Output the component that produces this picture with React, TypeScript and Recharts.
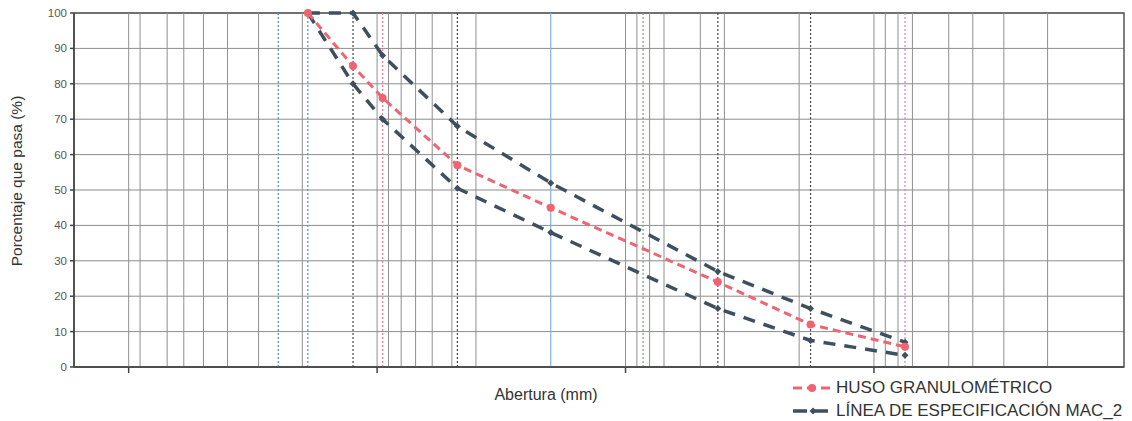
import React from 'react';
import {
  LineChart, Line, XAxis, YAxis, CartesianGrid, ReferenceLine, ReferenceArea,
} from 'recharts';

// abertura de tamices (mm)
const sieves = [19, 12.5, 9.5, 4.75, 2.0, 0.425, 0.18, 0.075];
// % que pasa
const huso = [100, 85, 76, 57, 45, 24, 12, 5.7];
const specUpper = [100, 100, 88, 68, 52, 27, 16.5, 7];
const specLower = [100, 80, 70, 50.5, 38, 16.5, 7.5, 3.3];

const yTicks = [0, 10, 20, 30, 40, 50, 60, 70, 80, 90, 100];
const decadeTicks = [100, 10, 1, 0.1];
const xDomain = [0.00985, 166];
// lineas de grilla verticales que aparecen en el grafico
const gridSizes = [
  100, 90, 70, 60, 50, 40, 30, 20, 10, 9, 8, 7, 6, 5, 4,
  1, 0.9, 0.8, 0.7, 0.5, 0.4, 0.2, 0.1, 0.09, 0.08, 0.07, 0.05, 0.04, 0.03, 0.02,
];
// lineas punteadas de tamices
const sieveMarks = [
  { size: 25, color: '#4f8fd0', dash: '2 2' },
  { size: 19, color: '#4f8fd0', dash: '2 2' },
  { size: 12.5, color: '#444', dash: '2 2' },
  { size: 9.5, color: '#e57d98', dash: '2 2' },
  { size: 4.75, color: '#444', dash: '2 2' },
  { size: 2.0, color: '#7fb3dc', dash: undefined },
  { size: 0.85, color: '#6aa46a', dash: '2 2' },
  { size: 0.425, color: '#444', dash: '2 2' },
  { size: 0.18, color: '#444', dash: '2 2' },
  { size: 0.075, color: '#e07fb8', dash: '2 2' },
];

const RED = '#ef6470';
const DARK = '#3e4f5f';

const data = sieves.map((s, i) => ({
  size: s,
  huso: huso[i],
  sup: specUpper[i],
  inf: specLower[i],
}));

const Diamond = (props: any) => {
  const { cx, cy } = props;
  if (cx == null || cy == null) return null;
  return <path d={`M${cx},${cy - 3.5}L${cx + 3.5},${cy}L${cx},${cy + 3.5}L${cx - 3.5},${cy}Z`} fill={DARK} />;
};

const App = () => {
  return (
    <div style={{ position: 'absolute', left: 0, top: 0, width: 1132, height: 421, background: '#fff', fontFamily: '"Liberation Sans", Arial, sans-serif' }}>
      <LineChart width={1132} height={421} data={data} margin={{ top: 13, right: 8, left: 30, bottom: 44 }}>
        <CartesianGrid vertical={false} stroke="#8c8c8c" strokeWidth={1} />
        <XAxis
          dataKey="size"
          type="number"
          scale="log"
          domain={xDomain}
          reversed
          allowDataOverflow
          ticks={decadeTicks}
          tickFormatter={() => ''}
          tickSize={6}
          height={10}
          stroke="#444"
          strokeWidth={1.5}
        />
        <YAxis
          type="number"
          domain={[0, 100]}
          ticks={yTicks}
          width={44}
          tickSize={4}
          tickMargin={3}
          stroke="#444"
          strokeWidth={1.5}
          tick={{ fill: '#555', fontSize: 11.5 }}
        />
        {gridSizes.map((g) => (
          <ReferenceLine key={'g' + g} x={g} stroke="#8f8f8f" strokeWidth={1} />
        ))}
        {sieveMarks.map((m) => (
          <ReferenceLine key={'s' + m.size} x={m.size} stroke={m.color} strokeWidth={1.2} strokeDasharray={m.dash} />
        ))}
        <ReferenceArea x1={xDomain[1]} x2={xDomain[0]} y1={0} y2={100} fill="none" stroke="#555" strokeWidth={1.5} ifOverflow="visible" />
        <Line
          type="linear"
          dataKey="sup"
          stroke={DARK}
          strokeWidth={3.5}
          strokeDasharray="12 9"
          dot={<Diamond />}
          isAnimationActive={false}
        />
        <Line
          type="linear"
          dataKey="inf"
          stroke={DARK}
          strokeWidth={3.5}
          strokeDasharray="12 9"
          dot={<Diamond />}
          isAnimationActive={false}
        />
        <Line
          type="linear"
          dataKey="huso"
          stroke={RED}
          strokeWidth={3}
          strokeDasharray="8 5"
          dot={{ r: 4, fill: RED, stroke: RED, strokeWidth: 0, strokeDasharray: '' }}
          isAnimationActive={false}
        />
      </LineChart>

      <div style={{ position: 'absolute', left: 9, top: 181, transform: 'translate(-50%, -50%) rotate(-90deg)', transformOrigin: 'center', whiteSpace: 'nowrap', fontSize: 15.5, color: '#333', marginLeft: 8 }}>
        Porcentaje que pasa (%)
      </div>
      <div style={{ position: 'absolute', left: 546, top: 395, transform: 'translate(-50%, -50%)', whiteSpace: 'nowrap', fontSize: 16, color: '#333' }}>
        Abertura (mm)
      </div>

      <div style={{ position: 'absolute', left: 792, top: 376, fontSize: 17, color: '#333', lineHeight: '23px' }}>
        <div style={{ display: 'flex', alignItems: 'center', whiteSpace: 'nowrap' }}>
          <svg width={42} height={12} style={{ marginRight: 2 }}>
            <line x1={1} y1={6} x2={41} y2={6} stroke={RED} strokeWidth={3} strokeDasharray="9 5" />
            <circle cx={20} cy={6} r={4} fill={RED} />
          </svg>
          <span>HUSO GRANULOMÉTRICO</span>
        </div>
        <div style={{ display: 'flex', alignItems: 'center', whiteSpace: 'nowrap' }}>
          <svg width={42} height={12} style={{ marginRight: 2 }}>
            <line x1={1} y1={6} x2={41} y2={6} stroke={DARK} strokeWidth={3.5} strokeDasharray="14 7" />
            <path d="M21,2.5L24.5,6L21,9.5L17.5,6Z" fill={DARK} />
          </svg>
          <span>LÍNEA DE ESPECIFICACIÓN MAC_2</span>
        </div>
      </div>
    </div>
  );
};

export default App;
